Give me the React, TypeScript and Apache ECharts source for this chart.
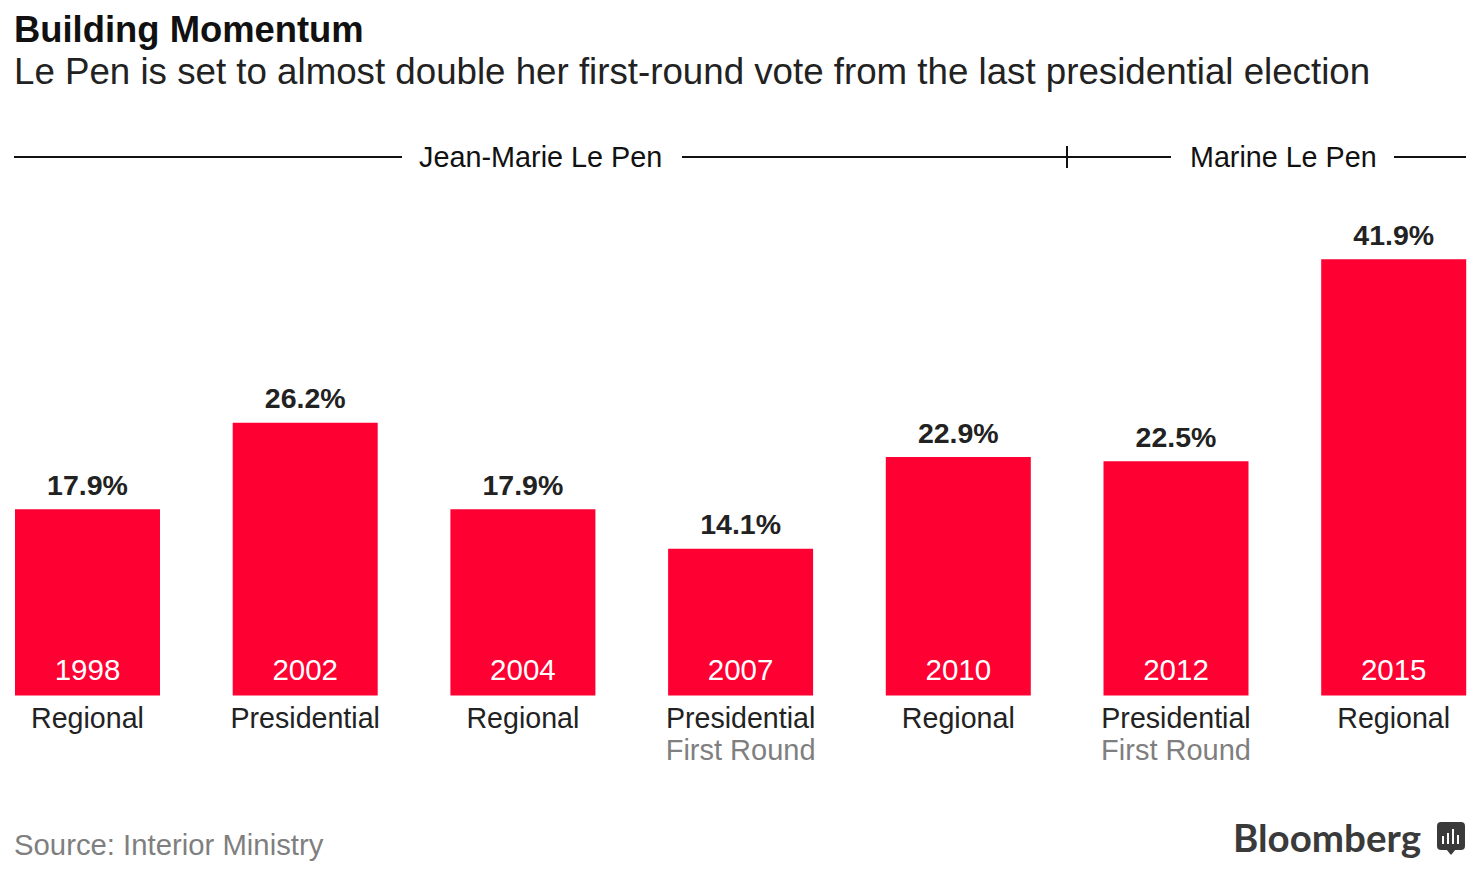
import React, { useEffect, useRef } from "react";
import * as echarts from "echarts";

const years = ["1998", "2002", "2004", "2007", "2010", "2012", "2015"];
const votes = [17.9, 26.2, 17.9, 14.1, 22.9, 22.5, 41.9];
const kinds = ["Regional", "Presidential", "Regional", "Presidential", "Regional", "Presidential", "Regional"];
const rounds = ["", "", "", "First Round", "", "First Round", ""];
const titleText = "Building Momentum";
const subtitleText = "Le Pen is set to almost double her first-round vote from the last presidential election";
const sourceText = "Source: Interior Ministry";
const FONT = "Liberation Sans";
const RED = "#ff0033";
const INK = "#222222";
const GREY = "#7f7f7f";

export default function App() {
  const ref = useRef<HTMLDivElement>(null);
  useEffect(() => {
    document.body.style.margin = "0";
    const chart = echarts.init(ref.current!, null, { renderer: "svg" });
    const line = (x1: number, y1: number, x2: number, y2: number) => ({
      type: "line", shape: { x1, y1, x2, y2 }, style: { stroke: "#111111", lineWidth: 2 },
    });
    const txt = (x: number, y: number, text: string, fontSize: number, fill: string, fontWeight = "normal", family = FONT, textAlign = "left") => ({
      type: "text", x, y, style: { text, fontSize, fill, fontWeight, fontFamily: family, textAlign, textVerticalAlign: "middle" },
    });
    chart.setOption({
      animation: false,
      backgroundColor: "#ffffff",
      grid: { left: 87.5, width: 1306.2, top: 227, height: 468.5, containLabel: false },
      xAxis: {
        type: "category",
        boundaryGap: false,
        data: kinds.map((k, i) => `${k}\n${rounds[i]}`),
        axisLine: { show: false },
        axisTick: { show: false },
        axisLabel: {
          interval: 0,
          margin: 6,
          hideOverlap: false,
          verticalAlign: "top",
          formatter: (_: string, i: number) => `{k|${kinds[i]}}` + (rounds[i] ? `\n{r|${rounds[i]}}` : ""),
          rich: {
            k: { fontFamily: FONT, fontSize: 28.6, color: INK, lineHeight: 32 },
            r: { fontFamily: FONT, fontSize: 29, color: GREY, lineHeight: 32 },
          },
        },
      },
      yAxis: { type: "value", min: 0, max: 45, interval: 5, show: false },
      series: [
        {
          type: "bar",
          data: votes,
          barWidth: 145,
          itemStyle: { color: RED },
          label: {
            show: true,
            position: "top",
            distance: 10,
            formatter: (p: any) => `${p.value}%`,
            fontFamily: FONT,
            fontWeight: "bold",
            fontSize: 28.5,
            color: INK,
          },
        },
        {
          type: "bar",
          data: votes,
          barWidth: 145,
          barGap: "-100%",
          silent: true,
          itemStyle: { color: "transparent" },
          label: {
            show: true,
            position: "insideBottom",
            distance: 11,
            formatter: (p: any) => years[p.dataIndex],
            fontFamily: FONT,
            fontSize: 29.5,
            color: "#ffffff",
          },
        },
      ],
      graphic: [
        txt(14, 29, titleText, 36.4, "#111111", "bold"),
        txt(14, 71, subtitleText, 36.7, INK),
        line(14, 157, 402, 157),
        line(682, 157, 1171, 157),
        line(1394, 157, 1466, 157),
        line(1067, 146, 1067, 168),
        txt(419, 157, "Jean-Marie Le Pen", 28.8, "#111111"),
        txt(1190, 157, "Marine Le Pen", 28.7, "#111111"),
        txt(14, 844.5, sourceText, 29.3, GREY),
        txt(1233, 837, "Bloomberg", 38.5, "#3a3a3a", "bold", "Lato"),
        { type: "rect", shape: { x: 1437, y: 822, width: 28, height: 28, r: 4 }, style: { fill: "#3a3a3a" } },
        { type: "polygon", shape: { points: [[1446, 849], [1456, 849], [1451, 855]] }, style: { fill: "#3a3a3a" } },
        { type: "rect", shape: { x: 1442, y: 836, width: 2, height: 8 }, style: { fill: "#ffffff" } },
        { type: "rect", shape: { x: 1447, y: 833, width: 2, height: 11 }, style: { fill: "#ffffff" } },
        { type: "rect", shape: { x: 1452, y: 829, width: 2, height: 15 }, style: { fill: "#ffffff" } },
        { type: "rect", shape: { x: 1457, y: 835, width: 2, height: 9 }, style: { fill: "#ffffff" } },
      ],
    });
    return () => chart.dispose();
  }, []);
  return <div ref={ref} style={{ width: 1480, height: 880 }} />;
}
